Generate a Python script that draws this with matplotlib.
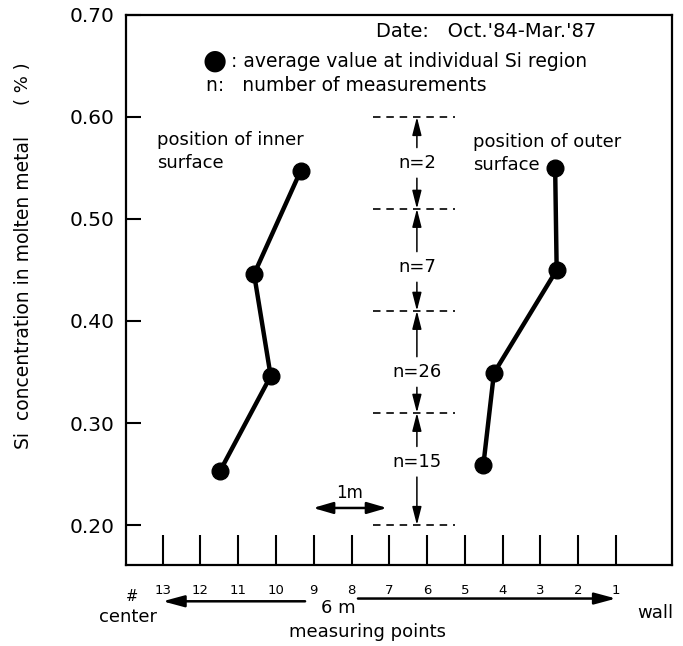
import matplotlib
matplotlib.use("Agg")
import matplotlib.pyplot as plt
import matplotlib.transforms as mtransforms

# measuring points: 13 = furnace center ... 1 = wall
inner_points = [11.48, 10.14, 10.58, 9.35]
inner_si = [0.253, 0.346, 0.446, 0.547]
outer_points = [4.51, 4.23, 2.57, 2.61]
outer_si = [0.259, 0.349, 0.450, 0.550]

# Si regions and number of measurements in each
band_edges = [0.60, 0.51, 0.41, 0.31, 0.20]
band_counts = [2, 7, 26, 15]
band_label_y = [0.555, 0.453, 0.350, 0.262]

point_ticks = list(range(1, 14))
y_ticks = [0.20, 0.30, 0.40, 0.50, 0.60, 0.70]

fig = plt.figure(figsize=(6.83, 6.46), dpi=100)
ax = fig.add_axes([0.1845, 0.1254, 0.7995, 0.8514])

ax.plot(inner_points, inner_si, "-o", color="black", lw=3.2, ms=12)
ax.plot(outer_points, outer_si, "-o", color="black", lw=3.2, ms=12)

ax.set_xlim(13.97, -0.485)
ax.set_ylim(0.1608, 0.70)
ax.set_xticks(point_ticks)
ax.set_xticklabels([str(p) for p in point_ticks], fontsize=9.5)
ax.set_yticks(y_ticks)
ax.set_yticklabels([f"{v:.2f}" for v in y_ticks], fontsize=14.5)
ax.tick_params(axis="x", direction="in", length=21.6, width=1.5, pad=14)
ax.tick_params(axis="y", direction="in", length=11, width=1.5, pad=8)
for spine in ax.spines.values():
    spine.set_linewidth(1.6)

# dashed region boundaries with n labels and arrows
arrow_x = 6.27
ax.hlines(band_edges, 7.43, 5.26, colors="black", lw=1.2,
          linestyles=(0, (4.5, 3.5)))
head = "-|>,head_length=1.1,head_width=0.28"
for hi, lo, n, ty in zip(band_edges[:-1], band_edges[1:], band_counts,
                         band_label_y):
    ax.text(arrow_x, ty, f"n={n}", ha="center", va="center", fontsize=13)
    for end, start in ((hi, ty + 0.015), (lo, ty - 0.015)):
        ax.annotate("", xy=(arrow_x, end), xytext=(arrow_x, start),
                    arrowprops=dict(arrowstyle=head, lw=1.1, color="black",
                                    shrinkA=0, shrinkB=0))

# 1 m scale
ax.annotate("", xy=(7.06, 0.2167), xytext=(9.02, 0.2167),
            arrowprops=dict(arrowstyle="<|-|>,head_length=1.2,head_width=0.35",
                            lw=1.8, color="black", shrinkA=0, shrinkB=0))
ax.text(8.04, 0.2314, "1m", ha="center", va="center", fontsize=12)

ax.text(13.15, 0.566, "position of inner\nsurface", ha="left", va="center",
        fontsize=13, linespacing=1.35)
ax.text(4.78, 0.564, "position of outer\nsurface", ha="left", va="center",
        fontsize=13, linespacing=1.35)

# legend block
ax.text(7.35, 0.684, "Date:   Oct.'84-Mar.'87", ha="left", va="center",
        fontsize=14)
ax.text(11.62, 0.655, "\u25cf", ha="center", va="center", fontsize=20)
ax.text(11.2, 0.654, ": average value at individual Si region", ha="left",
        va="center", fontsize=13.5)
ax.text(11.85, 0.631, "n:   number of measurements", ha="left", va="center",
        fontsize=13.5)

# annotations below the axis
trans = mtransforms.blended_transform_factory(ax.transData, ax.transAxes)
ax.annotate("", xy=(13.0, -0.066), xytext=(9.23, -0.066), xycoords=trans,
            textcoords=trans,
            arrowprops=dict(arrowstyle="-|>,head_length=1.3,head_width=0.35",
                            lw=1.8, color="black", shrinkA=0, shrinkB=0))
ax.annotate("", xy=(1.0, -0.061), xytext=(7.83, -0.061), xycoords=trans,
            textcoords=trans,
            arrowprops=dict(arrowstyle="-|>,head_length=1.3,head_width=0.35",
                            lw=1.8, color="black", shrinkA=0, shrinkB=0))
ax.text(13.81, -0.058, "#", transform=trans, ha="center", va="center",
        fontsize=10.5)
ax.text(13.92, -0.0945, "center", transform=trans, ha="center", va="center",
        fontsize=13)
ax.text(8.36, -0.078, "6 m", transform=trans, ha="center", va="center",
        fontsize=13)
ax.text(7.57, -0.122, "measuring points", transform=trans, ha="center",
        va="center", fontsize=13)
ax.text(-0.04, -0.087, "wall", transform=trans, ha="center", va="center",
        fontsize=13)

fig.text(0.034, 1 - 292 / 646, "Si  concentration in molten metal",
         rotation=90, ha="center", va="center", fontsize=13.5)
fig.text(0.034, 1 - 84 / 646, "( % )", rotation=90, ha="center",
         va="center", fontsize=13)

fig.savefig("out.png", dpi=100)
